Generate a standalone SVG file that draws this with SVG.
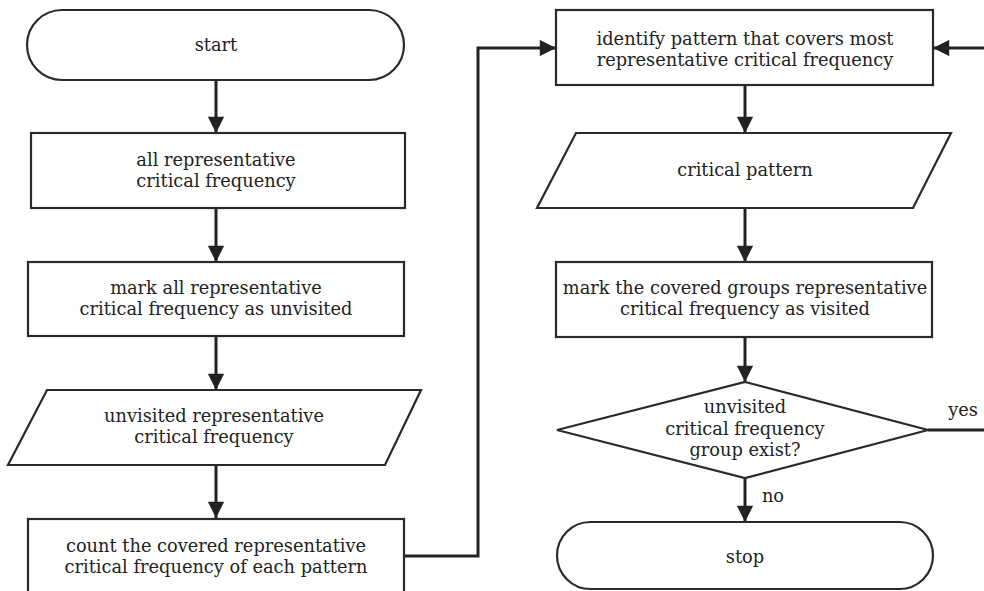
<svg xmlns="http://www.w3.org/2000/svg" width="984" height="591" viewBox="0 0 984 591">
<defs>
<marker id="ah" viewBox="0 0 10 10" refX="10" refY="5" markerWidth="6" markerHeight="5.4" markerUnits="strokeWidth" orient="auto">
<path d="M0,0 L10,5 L0,10 z" fill="#222"/>
</marker>
<style>
.n{fill:#fff;stroke:#2a2a2a;stroke-width:2.2}
.t{font-family:"DejaVu Serif","Liberation Serif",serif;font-size:17.8px;fill:#222;text-anchor:middle}
.c{fill:none;stroke:#222;stroke-width:3}
</style>
</defs>
<rect width="984" height="591" fill="#fff"/>
<g id="connectors">
<path class="c" d="M216,80 V133" marker-end="url(#ah)"/>
<path class="c" d="M216,208 V262" marker-end="url(#ah)"/>
<path class="c" d="M216,336 V390" marker-end="url(#ah)"/>
<path class="c" d="M216,465 V518" marker-end="url(#ah)"/>
<path class="c" d="M404,556 H478 V48 H556" marker-end="url(#ah)"/>
<path class="c" d="M745,85 V133" marker-end="url(#ah)"/>
<path class="c" d="M745,208 V262" marker-end="url(#ah)"/>
<path class="c" d="M745,337 V382" marker-end="url(#ah)"/>
<path class="c" d="M745,478 V522" marker-end="url(#ah)"/>
<path class="c" d="M928,430 H986"/>
<path class="c" d="M986,48 H933" marker-end="url(#ah)"/>
</g>
<g id="start">
<rect class="n" x="27" y="10" width="377" height="70" rx="35" ry="35"/>
<text class="t" x="216" y="51">start</text>
</g>
<g id="all-rep">
<rect class="n" x="31" y="133" width="374" height="75"/>
<text class="t" x="216" y="166">all representative</text>
<text class="t" x="216" y="187">critical frequency</text>
</g>
<g id="mark-unvisited">
<rect class="n" x="28" y="262" width="376" height="74"/>
<text class="t" x="216" y="294">mark all representative</text>
<text class="t" x="216" y="315">critical frequency as unvisited</text>
</g>
<g id="unvisited-rep">
<polygon class="n" points="47,390 421,390 385,465 8,465"/>
<text class="t" x="214" y="422">unvisited representative</text>
<text class="t" x="214" y="443">critical frequency</text>
</g>
<g id="count">
<rect class="n" x="28" y="519" width="376" height="80"/>
<text class="t" x="216" y="552">count the covered representative</text>
<text class="t" x="216" y="573">critical frequency of each pattern</text>
</g>
<g id="identify">
<rect class="n" x="556" y="10" width="377" height="75"/>
<text class="t" x="745" y="45">identify pattern that covers most</text>
<text class="t" x="745" y="66">representative critical frequency</text>
</g>
<g id="critical-pattern">
<polygon class="n" points="576,133 951,133 913,208 537,208"/>
<text class="t" x="745" y="176">critical pattern</text>
</g>
<g id="mark-visited">
<rect class="n" x="556" y="262" width="376" height="75"/>
<text class="t" x="745" y="294">mark the covered groups representative</text>
<text class="t" x="745" y="315">critical frequency as visited</text>
</g>
<g id="decision">
<polygon class="n" points="745,382 928,430 745,478 557,430"/>
<text class="t" x="745" y="413">unvisited</text>
<text class="t" x="745" y="435">critical frequency</text>
<text class="t" x="745" y="456">group exist?</text>
</g>
<g id="stop">
<rect class="n" x="557" y="522" width="376" height="67" rx="33.5" ry="33.5"/>
<text class="t" x="745" y="563">stop</text>
</g>
<g id="labels">
<text class="t" x="963" y="416">yes</text>
<text class="t" x="773" y="502">no</text>
</g>
</svg>
